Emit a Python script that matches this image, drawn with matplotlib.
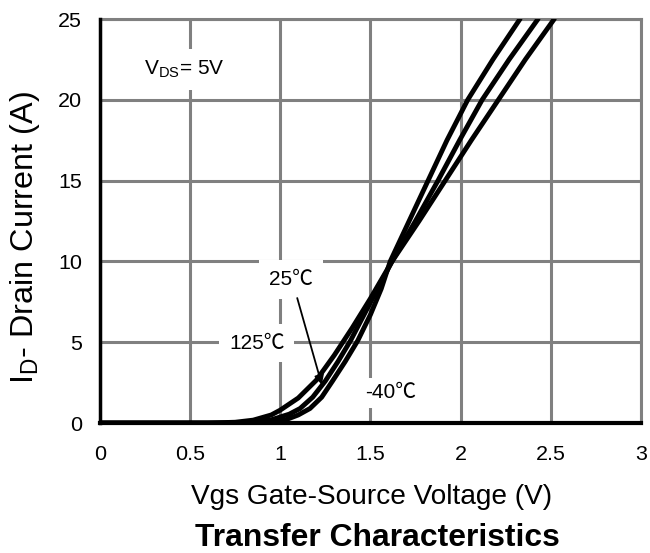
import matplotlib.pyplot as plt

plt.rcParams['font.family'] = ['Liberation Sans', 'DejaVu Sans']

# curves (Vgs in V, Id in A)
vgs_125 = [0, 0.6, 0.75, 0.85, 0.95, 1.0, 1.1, 1.2, 1.3, 1.4, 1.5, 1.62, 1.77, 1.915, 2.06, 2.21, 2.36, 2.52]
id_125 = [0, 0, 0.05, 0.18, 0.5, 0.8, 1.55, 2.65, 4.2, 5.9, 7.7, 10, 12.5, 15, 17.5, 20, 22.5, 25]

vgs_25 = [0, 0.75, 0.85, 0.95, 1.05, 1.11, 1.18, 1.25, 1.32, 1.39, 1.46, 1.54, 1.62, 1.75, 1.875, 1.995, 2.12, 2.27, 2.43]
id_25 = [0, 0, 0.05, 0.2, 0.55, 0.9, 1.6, 2.6, 3.8, 5.1, 6.6, 8.3, 10, 12.5, 15, 17.5, 20, 22.5, 25]

vgs_m40 = [0, 0.85, 0.95, 1.03, 1.1, 1.165, 1.23, 1.29, 1.36, 1.43, 1.5, 1.56, 1.61, 1.715, 1.82, 1.925, 2.04, 2.18, 2.33]
id_m40 = [0, 0, 0.05, 0.2, 0.5, 0.9, 1.6, 2.6, 3.8, 5.1, 6.7, 8.3, 10, 12.5, 15, 17.5, 20, 22.5, 25]

x_ticks = [0, 0.5, 1, 1.5, 2, 2.5, 3]
x_labels = ['0', '0.5', '1', '1.5', '2', '2.5', '3']
y_ticks = [0, 5, 10, 15, 20, 25]

cjk = ['Liberation Sans', 'Noto Sans CJK SC', 'DejaVu Sans']

fig = plt.figure(figsize=(6.5, 5.53), dpi=100)
ax = fig.add_axes([0.1538, 0.235, 0.832, 0.7306])

for xs, ys in [(vgs_125, id_125), (vgs_25, id_25), (vgs_m40, id_m40)]:
    ax.plot(xs, ys, color='black', lw=3.5, solid_capstyle='round',
            solid_joinstyle='round', zorder=3)

ax.set_xlim(0, 3)
ax.set_ylim(0, 25)
ax.set_xticks(x_ticks)
ax.set_xticklabels(x_labels)
ax.set_yticks(y_ticks)
ax.tick_params(length=0, labelsize=15)
ax.tick_params(axis='x', pad=16)
ax.tick_params(axis='y', pad=13)
ax.grid(True, color='#808080', lw=2.2, zorder=1)

for s in ['top', 'right']:
    ax.spines[s].set_color('#808080')
    ax.spines[s].set_linewidth(2.2)
ax.spines['left'].set_linewidth(2.5)
ax.spines['bottom'].set_linewidth(3)
ax.spines['left'].set_zorder(4)
ax.spines['bottom'].set_zorder(4)

box = dict(facecolor='white', edgecolor='none', pad=7)
ax.text(0.47, 21.9, r'V$_{\mathregular{DS}}$= 5V', fontsize=15, ha='center', va='center', bbox=box, zorder=5)
ax.text(1.06, 8.9, '25℃', fontsize=15, ha='center', va='center', bbox=box, zorder=5, family=cjk)
ax.text(0.87, 4.95, '125℃', fontsize=15, ha='center', va='center', bbox=box, zorder=5, family=cjk)
ax.text(1.614, 1.86, '-40℃', fontsize=15, ha='center', va='center', bbox=dict(box, pad=4), zorder=5, family=cjk)
ax.annotate('', xy=(1.235, 2.2), xytext=(1.09, 7.9),
            arrowprops=dict(arrowstyle='-|>', color='black', lw=1.3, mutation_scale=14), zorder=6)

ylab = ax.set_ylabel(r'I$_{\mathregular{D}}$- Drain Current (A)', fontsize=20, va='center')
ax.yaxis.set_label_coords(-0.139, 0.458)
xlab = ax.set_xlabel('Vgs Gate-Source Voltage (V)', fontsize=20, va='center')
ax.xaxis.set_label_coords(0.503, -0.183)
title = fig.text(0.58, 1 - 538 / 553, 'Transfer Characteristics', fontsize=22, fontweight='bold',
                 ha='center', va='center')

# scale the label fonts so their lengths match the original figure (pixels)
fig.canvas.draw()
rend = fig.canvas.get_renderer()
for t, target, vertical in [(ylab, 293, True), (xlab, 361, False), (title, 365, False)]:
    bb = t.get_window_extent(rend)
    cur = bb.height if vertical else bb.width
    t.set_fontsize(t.get_fontsize() * target / cur)

# tick labels: "0.5" is about 30 px wide in the original
w = ax.get_xticklabels()[1].get_window_extent(rend).width
ax.tick_params(labelsize=15 * 30 / w)

fig.savefig('out.png', dpi=100)
